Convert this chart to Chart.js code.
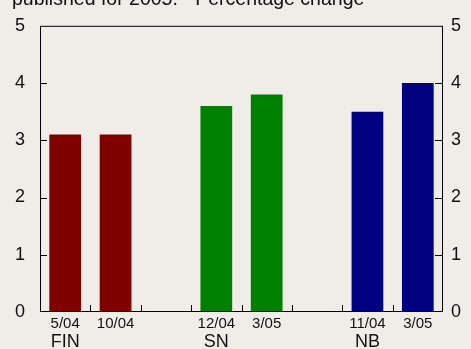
<!DOCTYPE html>
<html><head><meta charset="utf-8">
<script src="https://cdn.jsdelivr.net/npm/chart.js@4"></script>
<style>html,body{margin:0;padding:0;background:#f0ede8;}#c{display:block}</style>
</head><body>
<canvas id="c" width="471" height="349"></canvas>
<script>
const titleText = 'published for 2005. - Percentage change';
const categories = ['5/04', '10/04', '', '12/04', '3/05', '', '11/04', '3/05'];
const groupLabels = ['FIN', '', '', 'SN', '', '', 'NB', ''];
const barGroup = ['FIN', 'FIN', null, 'SN', 'SN', null, 'NB', 'NB'];
const values = [3.1, 3.1, null, 3.6, 3.8, null, 3.5, 4.0];
const yMin = 0, yMax = 5, yStep = 1;

const groupColors = { FIN: '#800000', SN: '#008000', NB: '#000080' };
const FONT = '"Liberation Sans", Arial, sans-serif';

const framePlugin = {
  id: 'frame',
  beforeDraw(chart) {
    const ctx = chart.ctx;
    ctx.save();
    ctx.fillStyle = '#f0ede8';
    ctx.fillRect(0, 0, chart.width, chart.height);
    ctx.fillStyle = '#111';
    ctx.font = '19.5px ' + FONT;
    ctx.textBaseline = 'alphabetic';
    ctx.textAlign = 'left';
    ctx.fillText(titleText, 12, 5);
    ctx.restore();
  },
  afterDraw(chart) {
    const { ctx, chartArea: a, scales } = chart;
    ctx.save();
    ctx.strokeStyle = '#000';
    ctx.lineWidth = 1;
    ctx.strokeRect(a.left + 0.5, a.top + 0.5, a.right - a.left - 1, a.bottom - a.top - 1);
    ctx.beginPath();
    for (let v = yMin + yStep; v < yMax; v += yStep) {
      const y = Math.round(scales.y.getPixelForValue(v)) + 0.5;
      ctx.moveTo(a.left, y); ctx.lineTo(a.left + 7, y);
      ctx.moveTo(a.right - 8, y); ctx.lineTo(a.right, y);
    }
    for (let i = 1; i < categories.length; i++) {
      const x = Math.round((scales.x.getPixelForValue(i - 1) + scales.x.getPixelForValue(i)) / 2) + 0.5;
      ctx.moveTo(x, a.bottom); ctx.lineTo(x, a.bottom - 7);
    }
    ctx.stroke();
    ctx.restore();
  }
};

new Chart(document.getElementById('c'), {
  type: 'bar',
  data: {
    labels: categories,
    datasets: [{
      data: values,
      backgroundColor: barGroup.map(g => g ? groupColors[g] : 'transparent'),
      borderWidth: 0,
      barPercentage: 0.63,
      categoryPercentage: 1.0
    }]
  },
  options: {
    responsive: false,
    animation: false,
    devicePixelRatio: 1,
    layout: { padding: { top: 20, left: 0, right: 0, bottom: 0 } },
    plugins: { legend: { display: false }, tooltip: { enabled: false }, title: { display: false } },
    scales: {
      x: {
        type: 'category',
        position: 'bottom',
        offset: true,
        grid: { display: false, drawTicks: false, offset: true },
        border: { display: false },
        ticks: { autoSkip: false, maxRotation: 0, minRotation: 0, padding: 2.5, color: '#111', font: { family: FONT, size: 15 } },
        afterFit(s) { s.height = 18; }
      },
      x2: {
        type: 'category',
        position: 'bottom',
        labels: groupLabels,
        offset: true,
        grid: { display: false, drawTicks: false, offset: true },
        border: { display: false },
        ticks: { autoSkip: false, maxRotation: 0, minRotation: 0, padding: 1.5, color: '#111', font: { family: FONT, size: 18 } },
        afterFit(s) { s.height = 19; }
      },
      y: {
        position: 'left',
        min: yMin, max: yMax,
        ticks: { stepSize: yStep, padding: 15, crossAlign: 'near', color: '#111', font: { family: FONT, size: 18 } },
        grid: { display: false, drawTicks: false },
        border: { display: false },
        afterFit(s) { s.width = 40; }
      },
      y2: {
        position: 'right',
        min: yMin, max: yMax,
        ticks: { stepSize: yStep, padding: 8, crossAlign: 'near', color: '#111', font: { family: FONT, size: 18 } },
        grid: { display: false, drawTicks: false },
        border: { display: false },
        afterFit(s) { s.width = 28; }
      }
    }
  },
  plugins: [framePlugin]
});
</script>
</body></html>
